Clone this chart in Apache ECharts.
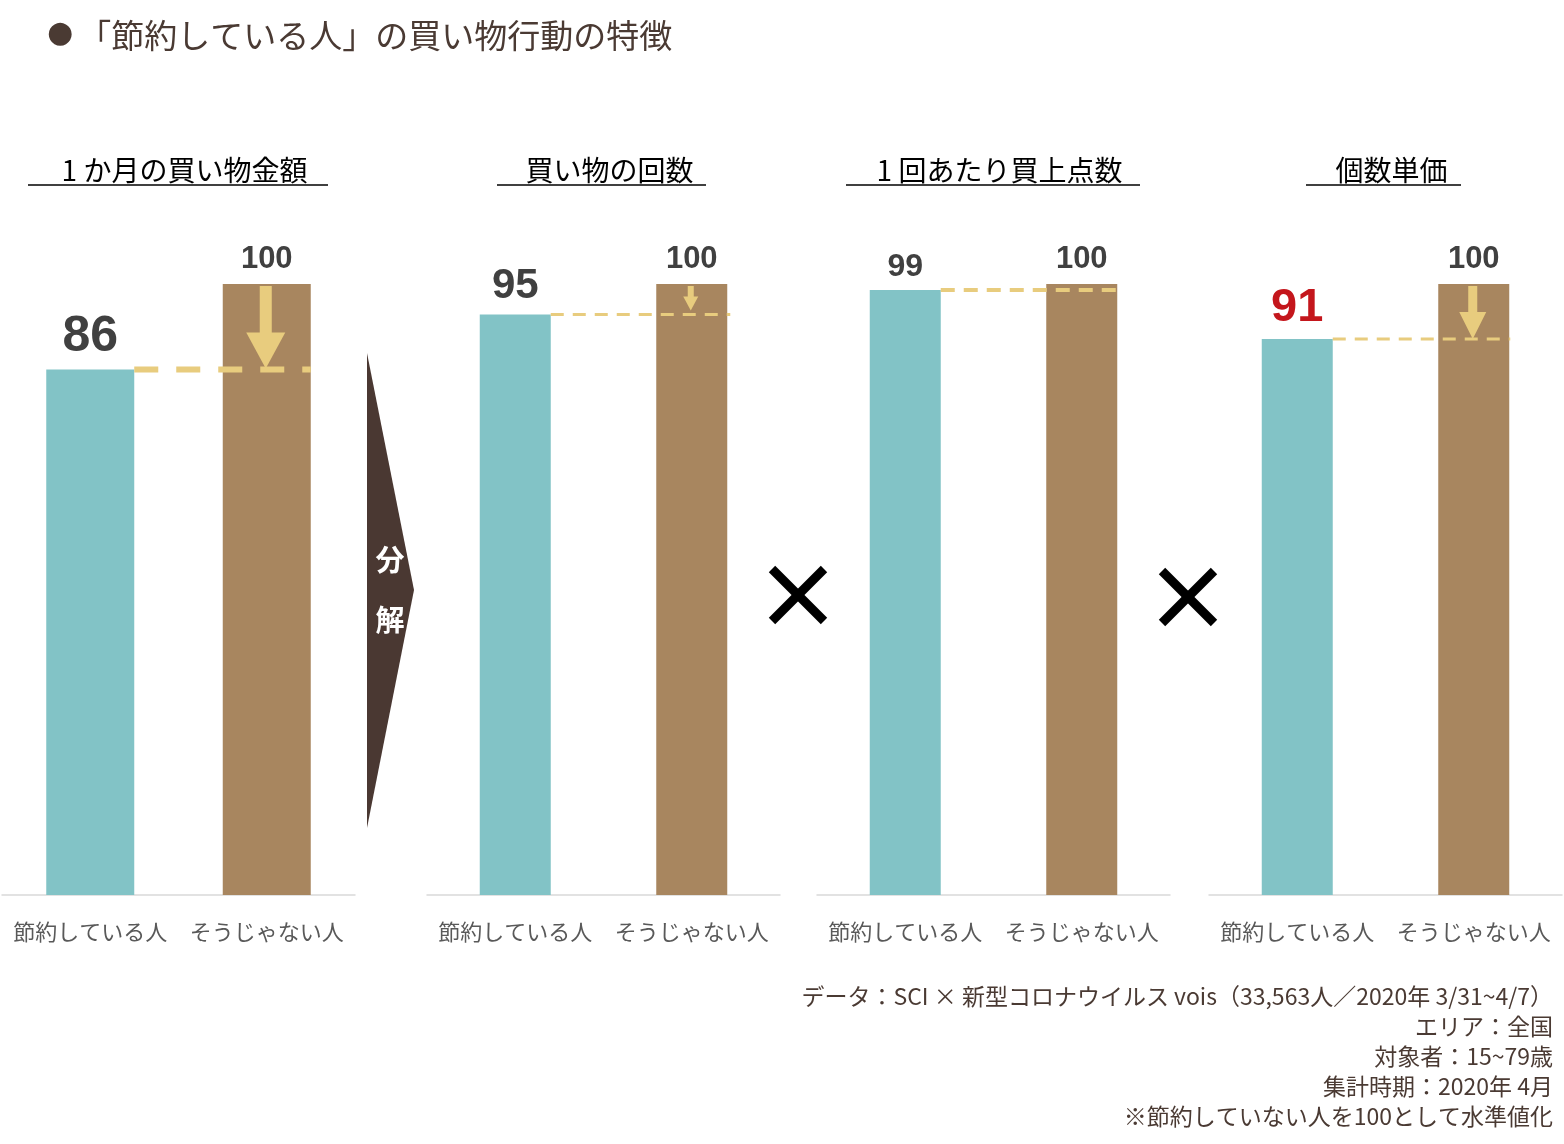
<!DOCTYPE html>
<html>
<head>
<meta charset="utf-8">
<style>
  html, body { margin: 0; padding: 0; background: #ffffff; }
  #chart { width: 1564px; height: 1144px; }
</style>
<script src="https://cdn.jsdelivr.net/npm/echarts@6/dist/echarts.min.js"></script>
</head>
<body>
<div id="chart"></div>
<script>
// ---------- data ----------
const categories = ['節約している人', 'そうじゃない人'];
const panelTitles = ['1 か月の買い物金額', '買い物の回数', '1 回あたり買上点数', '個数単価'];
const saverValues = [86, 95, 99, 91];
const otherValues = [100, 100, 100, 100];
const chartTitle = '「節約している人」の買い物行動の特徴';
const sourceLines = [
  'データ：SCI × 新型コロナウイルス vois（33,563人／2020年 3/31~4/7）',
  'エリア：全国',
  '対象者：15~79歳',
  '集計時期：2020年 4月',
  '※節約していない人を100として水準値化'
];
const arrowLabel = ['分', '解'];

// ---------- styles ----------
const TEAL = '#82C3C6';
const BROWN = '#A8865F';
const GOLD = '#E8CC7E';
const DARK = '#4A3A33';
const panelLeft = [2, 427, 817, 1209];
const panelWidth = 353;
const panelStyle = [
  { barWidth: 88, saverFont: 50, saverColor: '#404040', dash: [24, 18], lineW: 6, extend: 0, arrow: { shaft: 12, head: 39, headH: 36, tipGap: 1 } },
  { barWidth: 71, saverFont: 42, saverColor: '#404040', dash: [13, 9], lineW: 3, extend: 3, arrow: { shaft: 6, head: 15, headH: 14, tipGap: 4 } },
  { barWidth: 71, saverFont: 32, saverColor: '#404040', dash: [14, 9], lineW: 4, extend: 1, arrow: null },
  { barWidth: 71, saverFont: 47, saverColor: '#C4161C', dash: [13, 9], lineW: 3, extend: 1, arrow: { shaft: 9, head: 27, headH: 27, tipGap: 0 } }
];

const grids = [], xAxes = [], yAxes = [], series = [], titles = [], graphics = [];

titles.push({
  text: '{dot|●} {t|' + chartTitle + '}',
  left: 42, top: 14,
  textStyle: {
    fontWeight: 'normal',
    rich: {
      dot: { fontSize: 30, color: DARK, fontFamily: 'DejaVu Sans', fontWeight: 'normal', padding: [0, 0, 2, 0] },
      t: { fontSize: 33, color: DARK, fontFamily: 'Noto Sans CJK JP', fontWeight: 'normal' }
    }
  }
});

panelTitles.forEach((t, i) => {
  titles.push({
    text: t,
    left: panelLeft[i] + panelWidth / 2 + 1,
    top: 151,
    textAlign: 'center',
    textStyle: { fontSize: 28, fontWeight: 'normal', color: '#000', fontFamily: 'Noto Sans CJK JP' }
  });
});

titles.push({
  text: sourceLines.join('\n'),
  left: 1548, top: 976,
  textAlign: 'right',
  textStyle: { fontSize: 23, fontWeight: 'normal', color: DARK, fontFamily: 'Noto Sans CJK JP', lineHeight: 30 }
});

for (let i = 0; i < 4; i++) {
  const st = panelStyle[i];
  grids.push({ left: panelLeft[i], width: panelWidth, top: 284, bottom: 249 });
  xAxes.push({
    type: 'category', gridIndex: i, data: categories,
    axisLine: { lineStyle: { color: '#D9D9D9', width: 1.5 } },
    axisTick: { show: false },
    axisLabel: { interval: 0, fontSize: 22, color: '#595959', margin: 26, fontFamily: 'Noto Sans CJK JP' }
  });
  yAxes.push({ type: 'value', gridIndex: i, min: 0, max: 100, show: false });

  series.push({
    type: 'bar', xAxisIndex: i, yAxisIndex: i, barWidth: st.barWidth,
    data: [
      { value: saverValues[i], itemStyle: { color: TEAL },
        label: { show: true, position: 'top', distance: 7, fontSize: st.saverFont, fontWeight: 'bold', color: st.saverColor, fontFamily: 'Liberation Sans' } },
      { value: otherValues[i], itemStyle: { color: BROWN },
        label: { show: true, position: 'top', distance: 9, fontSize: 31, fontWeight: 'bold', color: '#404040', fontFamily: 'Liberation Sans' } }
    ],
    z: 2
  });

  series.push({
    type: 'custom', xAxisIndex: i, yAxisIndex: i, clip: false, z: 5,
    data: [[0, saverValues[i], otherValues[i]]],
    renderItem: (params, api) => {
      const v = api.value(1);
      const top = api.value(2);
      const p0 = api.coord([0, v]);
      const p1 = api.coord([1, v]);
      const pt = api.coord([1, top]);
      const hw = st.barWidth / 2;
      const children = [{
        type: 'line',
        shape: { x1: p0[0] + hw, y1: p0[1], x2: p1[0] + hw + st.extend, y2: p1[1] },
        style: { stroke: GOLD, lineWidth: st.lineW, lineDash: st.dash }
      }];
      if (st.arrow) {
        const a = st.arrow;
        const tipY = p1[1] - a.tipGap;
        const headTop = tipY - a.headH;
        const cx = p1[0] - 1;
        children.push({
          type: 'rect',
          shape: { x: cx - a.shaft / 2, y: pt[1] + 2, width: a.shaft, height: headTop - pt[1] - 1 },
          style: { fill: GOLD }
        });
        children.push({
          type: 'polygon',
          shape: { points: [[cx - a.head / 2, headTop], [cx + a.head / 2, headTop], [cx, tipY]] },
          style: { fill: GOLD }
        });
      }
      return { type: 'group', children };
    }
  });
}

// decorations: underlines, chevron, multiplication signs
const underlines = [[28, 328], [497, 706], [846, 1140], [1306, 1461]];
underlines.forEach(u => graphics.push({
  type: 'line', shape: { x1: u[0], y1: 185, x2: u[1], y2: 185 }, style: { stroke: '#000', lineWidth: 1.5 }
}));
graphics.push({
  type: 'polygon', shape: { points: [[367, 353], [414, 590], [367, 828]] }, style: { fill: '#4A3832' }
});
arrowLabel.forEach((ch, k) => graphics.push({
  type: 'text', x: 390, y: 560 + k * 60,
  style: { text: ch, fill: '#fff', fontSize: 29, fontWeight: 'bold', fontFamily: 'Noto Sans CJK JP', align: 'center', verticalAlign: 'middle' }
}));
[[798, 595], [1188, 597]].forEach(c => {
  const s = 26;
  graphics.push({ type: 'line', shape: { x1: c[0] - s, y1: c[1] - s, x2: c[0] + s, y2: c[1] + s }, style: { stroke: '#000', lineWidth: 9 } });
  graphics.push({ type: 'line', shape: { x1: c[0] - s, y1: c[1] + s, x2: c[0] + s, y2: c[1] - s }, style: { stroke: '#000', lineWidth: 9 } });
});

const chart = echarts.init(document.getElementById('chart'), null, { renderer: 'canvas' });
chart.setOption({
  backgroundColor: '#ffffff',
  animation: false,
  title: titles,
  grid: grids,
  xAxis: xAxes,
  yAxis: yAxes,
  series: series,
  graphic: graphics
});
</script>
</body>
</html>
